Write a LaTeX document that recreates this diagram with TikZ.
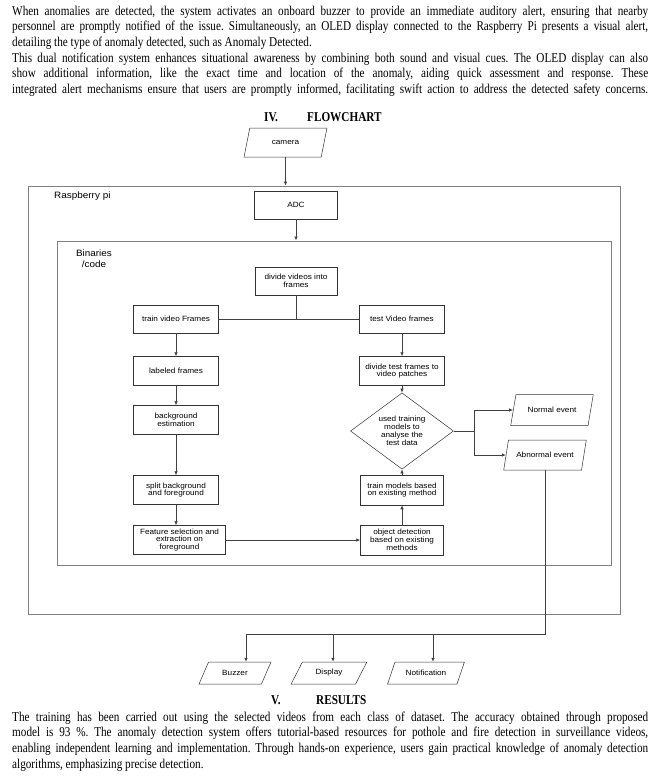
\documentclass[tikz,border=0pt]{standalone}
\usepackage{fontspec}
\setmainfont{Liberation Serif}
\newfontfamily\bodyfont[FakeStretch=0.83]{Liberation Serif}
\newfontfamily\flowfont[FakeStretch=1.08]{Liberation Sans}
\usetikzlibrary{positioning,shapes.geometric,arrows.meta}

\tikzset{
  proc/.style = {draw = black!80, line width = 0.5pt, minimum width = 85pt, minimum height = 29pt, inner sep = 1pt, align = center, font = \flowfont\fontsize{7.6}{7.9}\selectfont},
  io/.style = {proc, trapezium, trapezium stretches = true, trapezium left angle = #1, trapezium right angle = {\the\numexpr180-#1\relax}},
  decision/.style = {proc, diamond, inner sep = 0pt, minimum width = 103pt, minimum height = 58pt},
  container/.style = {draw = black!50, line width = 1pt, minimum width = #1},
  boxlabel/.style = {inner sep = 0pt, align = center, font = \flowfont\fontsize{9.2}{10.5}\selectfont},
  flow/.style = {draw = black!75, line width = 0.7pt, -{Latex[length = 4pt, width = 3.5pt]}},
  link/.style = {draw = black!75, line width = 0.7pt},
  para/.style = {anchor = north west, inner sep = 0pt, text width = 636pt, align = justify, font = \bodyfont\fontsize{13.5}{15.6}\selectfont\frenchspacing},
  head/.style = {anchor = base west, inner sep = 0pt, font = \bodyfont\bfseries\fontsize{13.5}{15.6}\selectfont}
}

\begin{document}
\begin{tikzpicture}[x = 1pt, y = -1pt]
\useasboundingbox (0, 0) rectangle (661, 777);

% text above the chart
\node[para] (alerttext) at (12, 5.8) {\parindent=0pt\tolerance=9999\hyphenpenalty=10000\exhyphenpenalty=10000
When anomalies are detected, the system activates an onboard buzzer to provide an immediate auditory alert, ensuring that nearby\linebreak
personnel are promptly notified of the issue. Simultaneously, an OLED display connected to the Raspberry Pi presents a visual alert,\linebreak
detailing the type of anomaly detected, such as Anomaly Detected.\par
\parfillskip=0pt This dual notification system enhances situational awareness by combining both sound and visual cues. The OLED display can also\linebreak
show additional information, like the exact time and location of the anomaly, aiding quick assessment and response. These\linebreak
integrated alert mechanisms ensure that users are promptly informed, facilitating swift action to address the detected safety concerns.\par};
\node[head] (ivnum) at (264, 121.5) {IV.};
\node[head] (ivtitle) at (307, 121.5) {FLOWCHART};

% containers
\node[container = 592pt, minimum height = 428pt] (rpi) at (324, 400) {};
\node[boxlabel, anchor = west] (rpilabel) at (54, 196) {Raspberry pi};
\node[container = 554pt, minimum height = 324pt] (bin) at (334, 403) {};
\node[boxlabel] (binlabel) at (94, 258.5) {Binaries\\/code};

% steps
\node[io = 69, minimum width = 83pt] (camera) at (285.5, 142.5) {camera};
\node[proc, minimum width = 83pt, minimum height = 28pt] (adc) at (296, 205) {ADC};
\node[proc, minimum width = 82pt, minimum height = 28pt] (divide) at (296, 281) {divide videos into\\frames};
\node[proc, minimum height = 28pt] (trainf) at (176, 319) {train video Frames};
\node[proc, minimum height = 28pt] (testf) at (402, 319) {test Video frames};
\node[proc] (labeled) at (176, 371) {labeled frames};
\node[proc] (patches) at (402, 371) {divide test frames to\\video patches};
\node[proc] (bgest) at (176, 420) {background\\estimation};
\node[decision] (analyse) at (402, 431) {used training\\models to\\analyse the\\test data};
\node[io = 64, minimum width = 83pt, minimum height = 31pt] (normal) at (552, 410) {Normal event};
\node[io = 63, minimum width = 83pt, minimum height = 30pt] (abnormal) at (545, 455) {Abnormal event};
\node[proc] (split) at (176, 490) {split background\\and foreground};
\node[proc, minimum width = 83pt, minimum height = 30pt] (trainmod) at (402, 490) {train models based\\on existing method};
\node[proc, minimum width = 92pt] (feature) at (179.5, 540) {Feature selection and\\extraction on\\foreground};
\node[proc, minimum width = 83pt, minimum height = 30pt] (objdet) at (402, 540) {object detection\\based on existing\\methods};
\node[io = 56, minimum width = 72pt, minimum height = 22pt] (buzzer) at (235, 673) {Buzzer};
\node[io = 56, minimum width = 76pt, minimum height = 22pt] (display) at (329, 673) {Display};
\node[io = 56, minimum width = 77pt, minimum height = 22pt] (notif) at (426, 673) {Notification};

\coordinate (fork) at (474, 431);
\coordinate (busL) at (246, 634);
\coordinate (busD) at (333, 634);
\coordinate (busN) at (433, 634);

% connectors
\draw[flow] (camera.south) -- (camera.south |- rpi.north);
\draw[flow] (adc.south) -- (adc.south |- bin.north);
\draw[link] (divide.south) -- (divide.south |- trainf.east);
\draw[link] (trainf.east) -- (testf.west);
\draw[flow] (trainf) -- (labeled);
\draw[flow] (labeled) -- (bgest);
\draw[flow] (bgest) -- (split);
\draw[flow] (split.south) -- (split.south |- feature.north);
\draw[flow] (feature) -- (objdet);
\draw[flow] (objdet) -- (trainmod);
\draw[flow] (trainmod) -- (analyse);
\draw[flow] (testf) -- (patches);
\draw[flow] (patches) -- (analyse);
\draw[link] (analyse.east) -- (fork);
\draw[flow] (fork) |- (normal.west);
\draw[flow] (fork) |- (abnormal.west);
\draw[link] (abnormal.south) |- (busL);
\draw[flow] (busL) -- (busL |- buzzer.north);
\draw[flow] (busD) -- (busD |- display.north);
\draw[flow] (busN) -- (busN |- notif.north);

% text below the chart
\node[head] (vnum) at (271, 704.5) {V.};
\node[head] (vtitle) at (316, 704.5) {RESULTS};
\node[para] (resulttext) at (12, 711.5) {\parindent=0pt\tolerance=9999\hyphenpenalty=10000\exhyphenpenalty=10000
The training has been carried out using the selected videos from each class of dataset. The accuracy obtained through proposed\linebreak
model is 93 \%. The anomaly detection system offers tutorial-based resources for pothole and fire detection in surveillance videos,\linebreak
enabling independent learning and implementation. Through hands-on experience, users gain practical knowledge of anomaly detection\linebreak
algorithms, emphasizing precise detection.\par};
\end{tikzpicture}
\end{document}
